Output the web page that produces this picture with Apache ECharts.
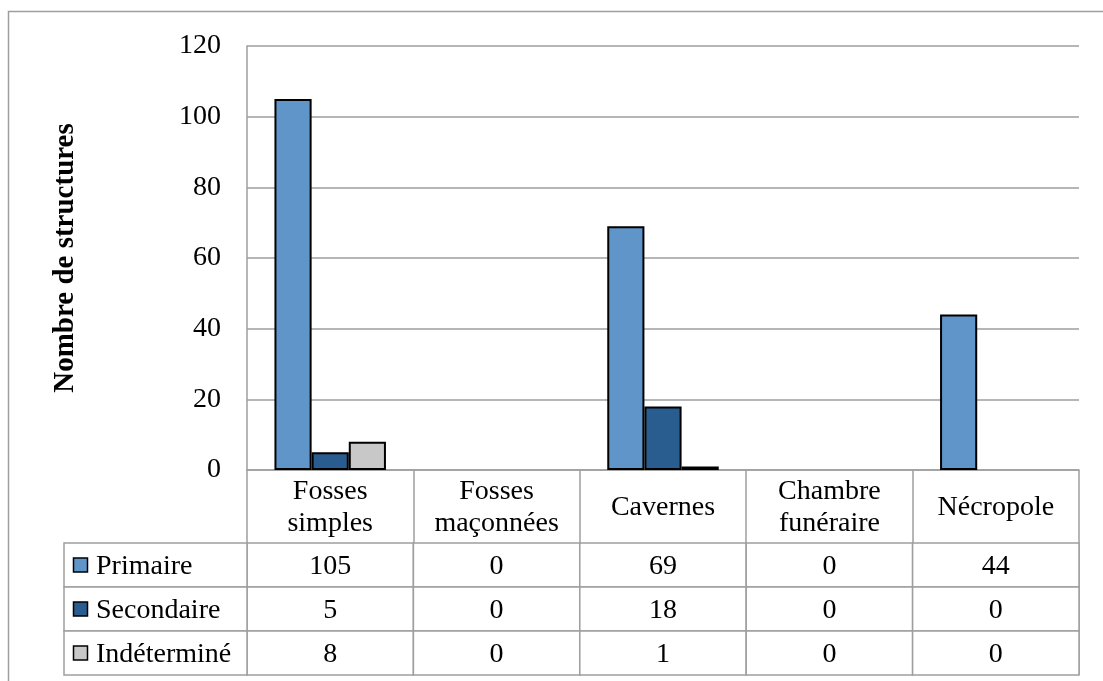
<!DOCTYPE html>
<html><head><meta charset="utf-8">
<script src="https://cdn.jsdelivr.net/npm/echarts@6/dist/echarts.min.js"></script>
<style>html,body{margin:0;padding:0;background:#fff}#c{width:1103px;height:681px}</style>
</head><body><div id="c"></div>
<script>
// ---- data ----
const categories = ['Fosses\nsimples', 'Fosses\nmaçonnées', 'Cavernes', 'Chambre\nfunéraire', 'Nécropole'];
const seriesNames = ['Primaire', 'Secondaire', 'Indéterminé'];
const primaire = [105, 0, 69, 0, 44];
const secondaire = [5, 0, 18, 0, 0];
const indetermine = [8, 0, 1, 0, 0];
const yTicks = [0, 20, 40, 60, 80, 100, 120];
const yTitle = 'Nombre de structures';

// ---- styles ----
const colors = ['#5F95C9', '#2A5D8F', '#C8C8C8'];
const FONT = '"Liberation Serif", "Times New Roman", serif';
const LINE = '#9e9e9e';

const values = [primaire, secondaire, indetermine];
const cellData = [];
values.forEach((arr, r) => arr.forEach((v, c) => cellData.push([c, r, v])));
const legendRows = seriesNames.map((n, r) => [0, r]);

const chart = echarts.init(document.getElementById('c'), null, {renderer: 'canvas'});

const option = {
  animation: false,
  backgroundColor: '#fff',
  graphic: [{
    type: 'rect', silent: true, z: -10,
    shape: {x: 8.5, y: 11.5, width: 1300, height: 900},
    style: {fill: 'none', stroke: LINE, lineWidth: 1.5}
  }],
  grid: [
    {left: 247, top: 46, width: 832, height: 424, outerBoundsMode: 'none'},
    {left: 247, top: 543, width: 832, height: 132, outerBoundsMode: 'none'},
    {left: 64, top: 543, width: 183, height: 132, outerBoundsMode: 'none'}
  ],
  xAxis: [
    {
      gridIndex: 0, type: 'category', data: categories,
      axisLine: {show: true, lineStyle: {color: LINE, width: 1.5}},
      axisTick: {show: true, interval: 0, length: 205, alignWithLabel: false, lineStyle: {color: LINE, width: 1.5}},
      axisLabel: {interval: 0, margin: 38, verticalAlign: 'middle', fontFamily: FONT, fontSize: 28, color: '#000', lineHeight: 32},
      splitLine: {show: false}
    },
    {gridIndex: 1, type: 'category', data: categories, show: false},
    {gridIndex: 2, type: 'category', data: ['legend'], show: false}
  ],
  yAxis: [
    {
      gridIndex: 0, type: 'value', min: yTicks[0], max: yTicks[yTicks.length - 1], interval: yTicks[1] - yTicks[0],
      axisLine: {show: true, lineStyle: {color: LINE, width: 1.5}},
      axisTick: {show: false},
      splitLine: {show: true, lineStyle: {color: LINE, width: 1.5}},
      axisLabel: {margin: 26, fontFamily: FONT, fontSize: 28, color: '#000'},
      name: yTitle, nameLocation: 'middle', nameGap: 167,
      nameTextStyle: {fontFamily: FONT, fontSize: 29, fontWeight: 'bold', color: '#000'}
    },
    {gridIndex: 1, type: 'category', data: seriesNames, inverse: true, show: false},
    {gridIndex: 2, type: 'category', data: seriesNames, inverse: true, show: false}
  ],
  series: [
    ...values.map((arr, i) => ({
      type: 'bar', name: seriesNames[i], xAxisIndex: 0, yAxisIndex: 0,
      data: arr.map(v => v === 0 ? {value: 0, itemStyle: {borderWidth: 0}} : v),
      barGap: '0%', barCategoryGap: '33%',
      itemStyle: {color: colors[i], borderColor: '#000', borderWidth: 2}
    })),
    {
      type: 'custom', xAxisIndex: 1, yAxisIndex: 1, data: cellData,
      renderItem: (params, api) => {
        const c = api.coord([api.value(0), api.value(1)]);
        const s = api.size([1, 1]);
        return {type: 'group', children: [
          {type: 'rect', shape: {x: c[0] - s[0] / 2, y: c[1] - s[1] / 2, width: s[0], height: s[1]},
           style: {fill: '#fff', stroke: LINE, lineWidth: 1.5}},
          {type: 'text', style: {x: c[0], y: c[1] + 2, text: String(api.value(2)), align: 'center', verticalAlign: 'middle',
           fontFamily: FONT, fontSize: 28, fill: '#000'}}
        ]};
      }
    },
    {
      type: 'custom', xAxisIndex: 2, yAxisIndex: 2, data: legendRows,
      renderItem: (params, api) => {
        const r = params.dataIndex;
        const c = api.coord([0, r]);
        const s = api.size([1, 1]);
        const x0 = c[0] - s[0] / 2, y0 = c[1] - s[1] / 2;
        return {type: 'group', children: [
          {type: 'rect', shape: {x: x0, y: y0, width: s[0], height: s[1]},
           style: {fill: '#fff', stroke: LINE, lineWidth: 1.5}},
          {type: 'rect', shape: {x: x0 + 9.5, y: c[1] - 7, width: 14, height: 14},
           style: {fill: colors[r], stroke: '#000', lineWidth: 1.5}},
          {type: 'text', style: {x: x0 + 32, y: c[1] + 2, text: seriesNames[r], align: 'left', verticalAlign: 'middle',
           fontFamily: FONT, fontSize: 28, fill: '#000'}}
        ]};
      }
    }
  ]
};
chart.setOption(option);
</script>
</body></html>
